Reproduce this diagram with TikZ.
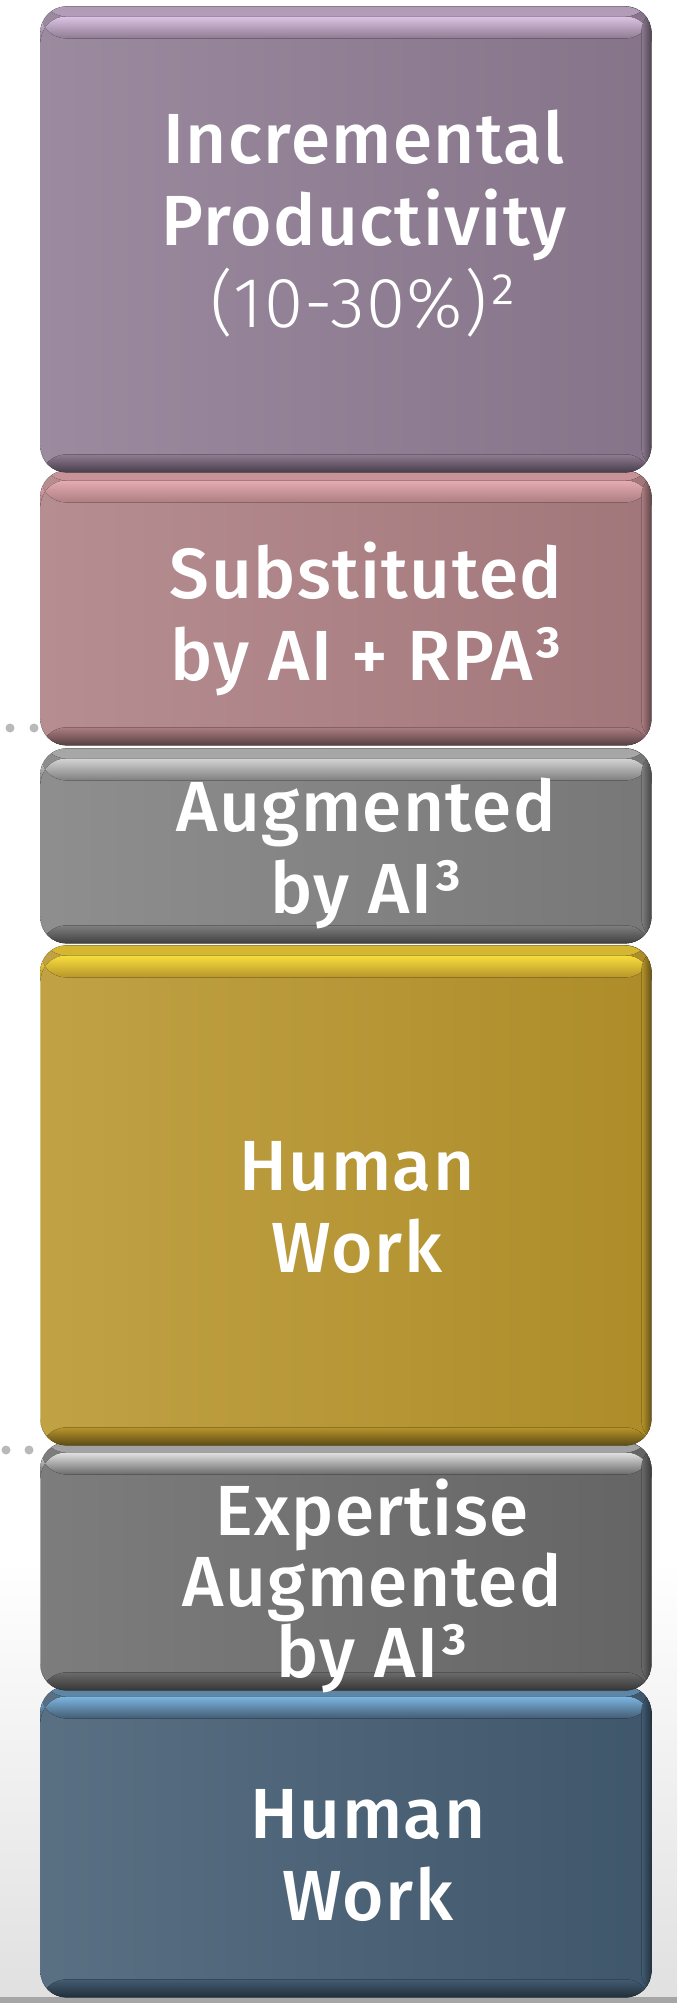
\documentclass[tikz,border=0pt]{standalone}
\usepackage{fontspec}
\setmainfont{Fira Sans}
\newfontfamily\blockfont{Fira Sans Medium}[LetterSpace=2]
\newfontfamily\lightfont{Fira Sans Light}[LetterSpace=2]
\definecolor{incrcol}{HTML}{8E7B92}
\definecolor{incrhi}{HTML}{DCC4E4}
\definecolor{substcol}{HTML}{AC7E82}
\definecolor{substhi}{HTML}{E6ACB2}
\definecolor{augcol}{HTML}{7F7F7F}
\definecolor{aughi}{HTML}{D4D4D4}
\definecolor{goldcol}{HTML}{B8952B}
\definecolor{goldhi}{HTML}{F7DE3C}
\definecolor{expcol}{HTML}{6B6B6B}
\definecolor{exphi}{HTML}{E2E2E2}
\definecolor{bluecol}{HTML}{435C72}
\definecolor{bluehi}{HTML}{7DB6E2}
\definecolor{dotcol}{HTML}{B9B9B9}
\tikzset{
  blockbox/.style 2 args={rounded corners=13pt, minimum width=305.5pt, inner sep=0pt,
    anchor=north west, left color=#1!88!white, right color=#1!94!black,
    path picture={
      \fill[top color=#1!55!#2, bottom color=#2] (path picture bounding box.north west)
        rectangle ([yshift=-5pt]path picture bounding box.north east);
      \fill[top color=#2, bottom color=#1] ([yshift=-5pt]path picture bounding box.north west)
        rectangle ([yshift=-16pt]path picture bounding box.north east);
      \fill[left color=#1, right color=#1!55!black] ([xshift=-5pt]path picture bounding box.north east)
        rectangle (path picture bounding box.south east);
      \fill[top color=#1, bottom color=#1!50!black] ([yshift=9pt]path picture bounding box.south west)
        rectangle (path picture bounding box.south east);
    }},
  blocktext/.style={text=white, align=center, inner sep=0pt, anchor=base,
    font=\blockfont\fontsize{35.5}{41}\selectfont}
}
\begin{document}
\begin{tikzpicture}[x=0.5pt,y=-0.5pt]
    \useasboundingbox (0,0) rectangle (677,2012);
    % shadow under the stack and the floor line
    \fill[top color=white, bottom color=black!12] (0,1560) rectangle (677,1997);
    \fill[black!35] (0,1997) rectangle (677,2003);
    % blocks, lowest first
    \node[blockbox={bluecol}{bluehi}, minimum height=155.5pt] (humanlow) at (40,1686) {};
    \node[blockbox={expcol}{exphi}, minimum height=124pt] (expert) at (40,1442) {};
    \node[blockbox={goldcol}{goldhi}, minimum height=250pt] (humanhigh) at (40,945) {};
    \node[blockbox={augcol}{aughi}, minimum height=97.5pt] (augment) at (40,748) {};
    \node[blockbox={substcol}{substhi}, minimum height=137.5pt] (subst) at (40,470) {};
    \node[blockbox={incrcol}{incrhi}, minimum height=233pt] (incr) at (40,6) {};
    % dots on the left
    \fill[dotcol] (10,728) circle (4.5) (34,728) circle (4.5);
    \fill[dotcol] (6,1450) circle (4.5) (29,1450) circle (4.5);
    % labels (anchored at the last baseline)
    \node[blocktext] (incrtext) at (364,328) {Incremental\\Productivity\\{\lightfont(10-30\%)²}};
    \node[blocktext] (substtext) at (366,680) {Substituted\\by AI + RPA³};
    \node[blocktext] (augtext) at (366,913) {Augmented\\by AI³};
    \node[blocktext] (humanhightext) at (357,1272) {Human\\Work};
    \node[blocktext, font=\blockfont\fontsize{35.5}{35.5}\selectfont] (experttext) at (372,1677) {Expertise\\Augmented\\by AI³};
    \node[blocktext] (humanlowtext) at (368,1920) {Human\\Work};
\end{tikzpicture}
\end{document}
